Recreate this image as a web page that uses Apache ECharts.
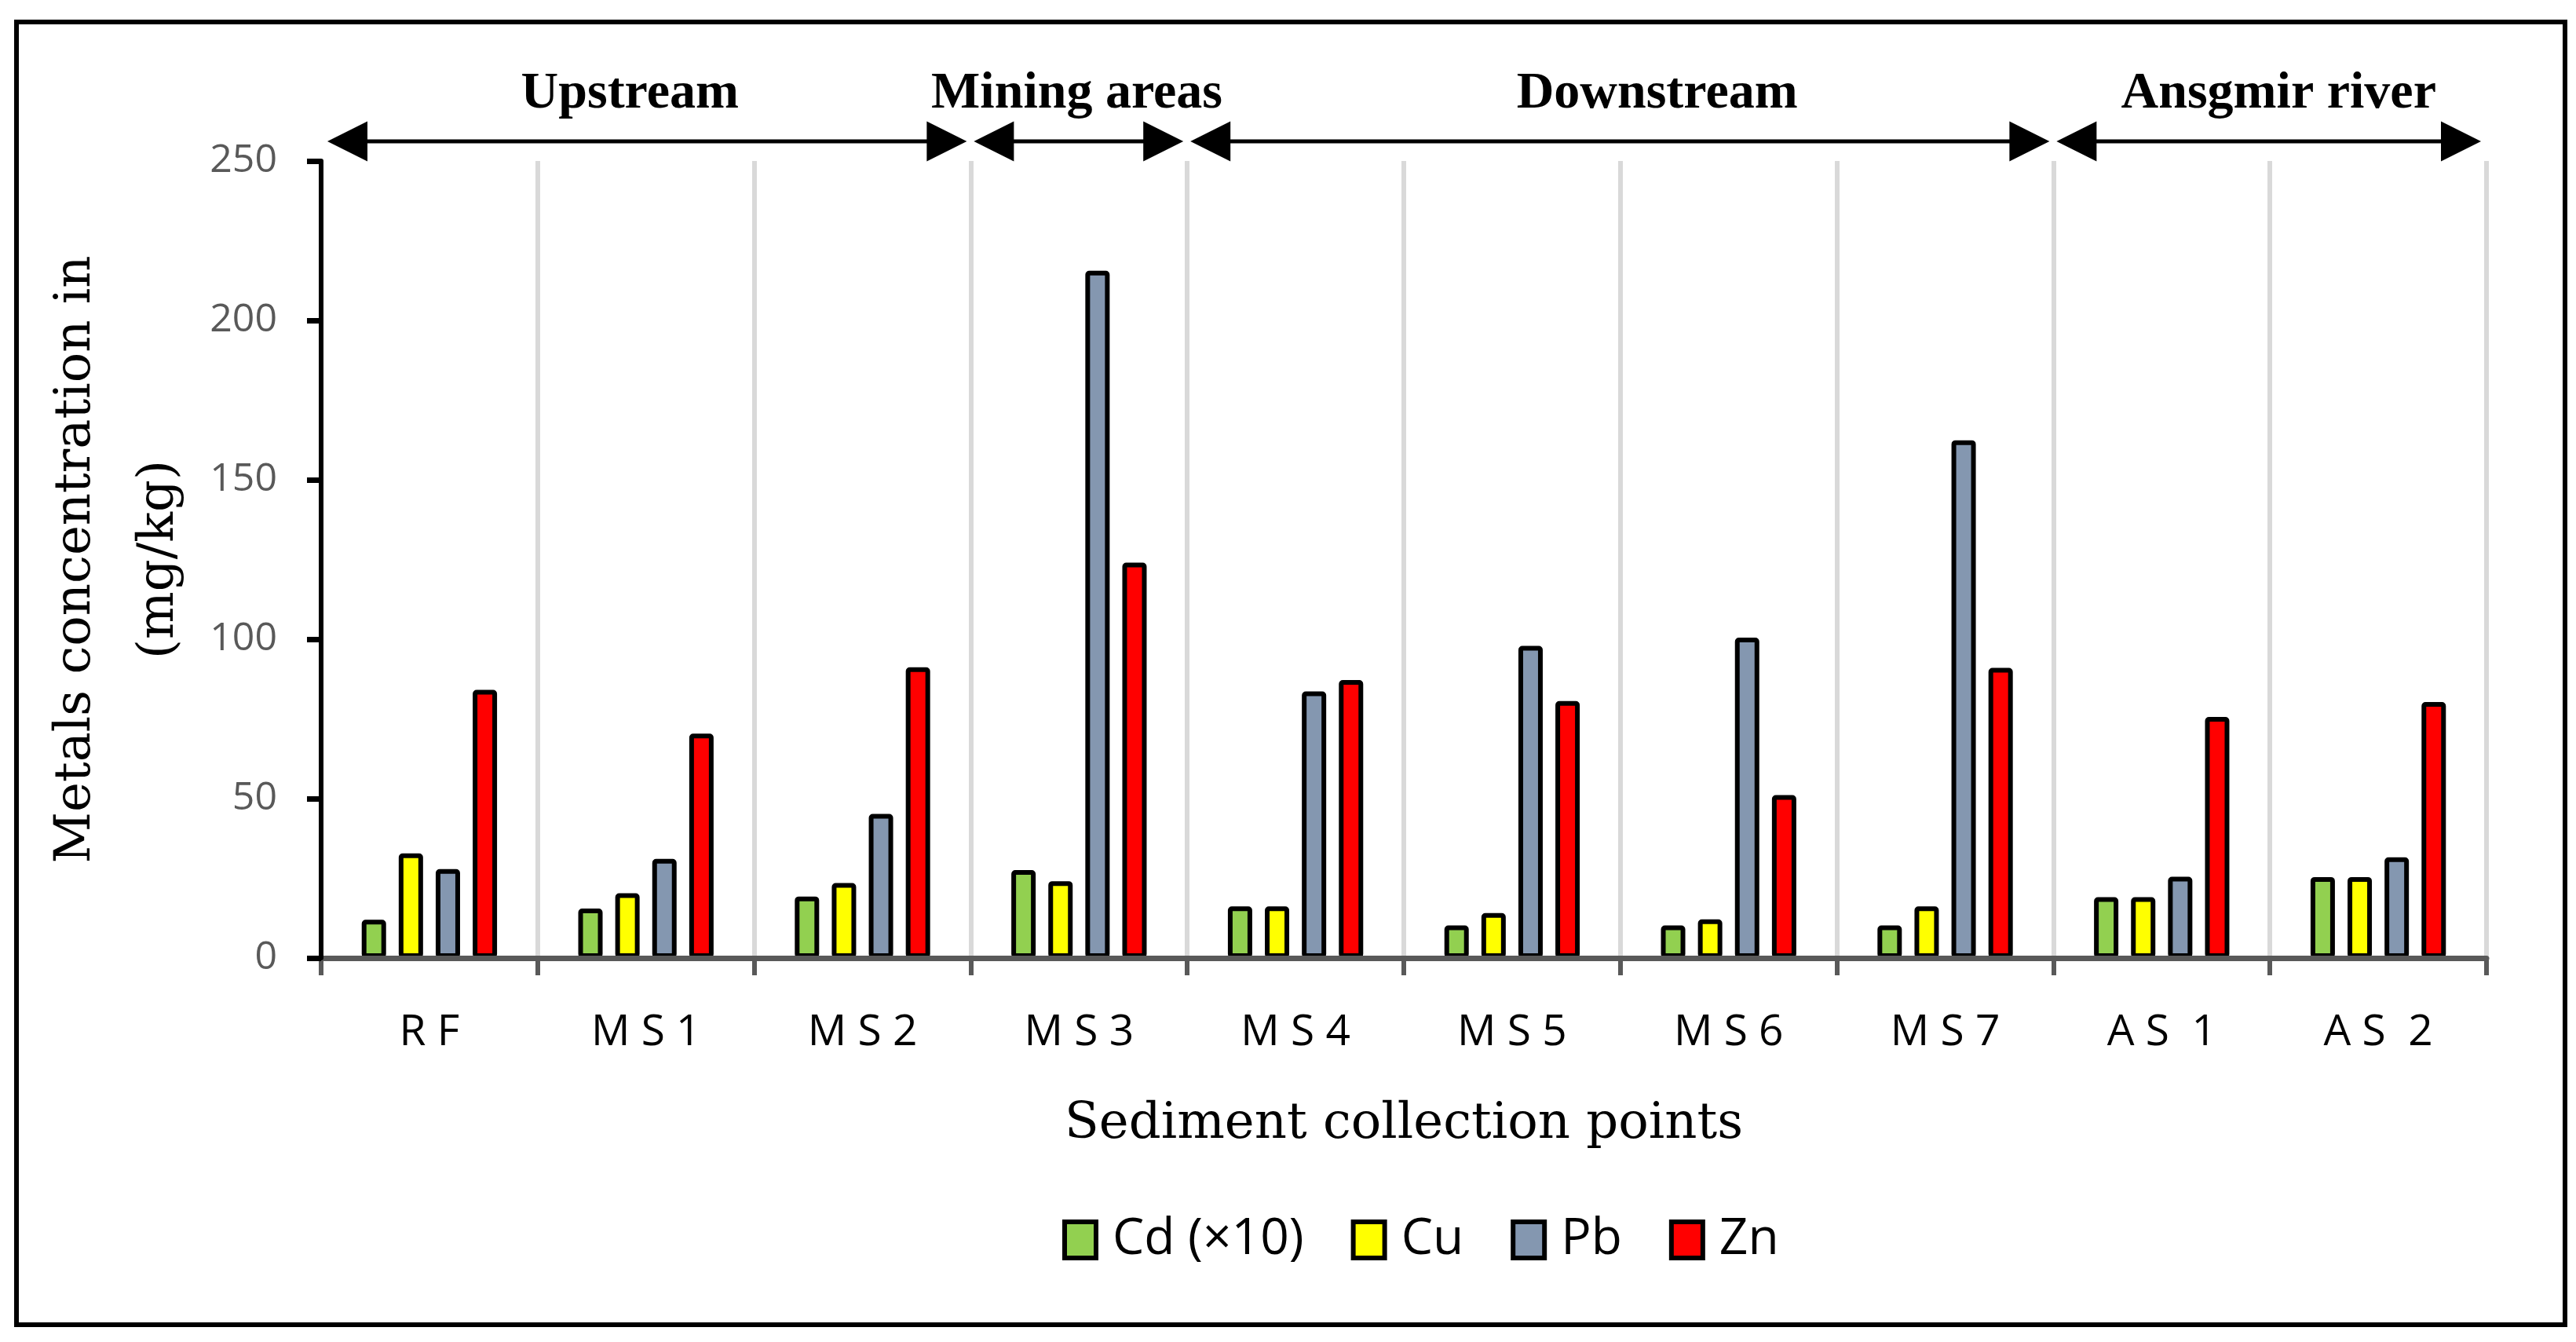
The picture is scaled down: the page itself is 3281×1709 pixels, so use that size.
<!DOCTYPE html>
<html>
<head>
<meta charset="utf-8">
<script src="https://cdn.jsdelivr.net/npm/echarts@6/dist/echarts.min.js"></script>
<style>
html,body{margin:0;padding:0;background:#fff;}
#chart{width:3281px;height:1709px;}
</style>
</head>
<body>
<div id="chart"></div>
<script>
// ---- data ----
var categories = ['R F', 'M S 1', 'M S 2', 'M S 3', 'M S 4', 'M S 5', 'M S 6', 'M S 7', 'A S  1', 'A S  2'];
var seriesNames = ['Cd (×10)', 'Cu', 'Pb', 'Zn'];
var cdX10 = [12.0, 15.5, 19.3, 27.6, 16.2, 10.2, 10.2, 10.2, 19.1, 25.4];
var cu = [32.8, 20.3, 23.5, 24.1, 16.2, 14.1, 12.1, 16.2, 19.1, 25.4];
var pb = [27.9, 31.1, 45.2, 215.6, 83.6, 97.9, 100.5, 162.4, 25.5, 31.6];
var zn = [84.1, 70.4, 91.2, 124.0, 87.2, 80.6, 51.1, 91.0, 75.6, 80.3];
var yTicks = [0, 50, 100, 150, 200, 250];
// zones: start/end category boundary index, label position (in category units)
var zoneNames = ['Upstream', 'Mining areas', 'Downstream', 'Ansgmir river'];
var zoneFrom = [0, 3, 4, 8];
var zoneTo = [3, 4, 8, 10];
var zoneLabelAt = [1.426, 3.49, 6.17, 9.04];

var colors = ['#92D050', '#FFFF00', '#8497B0', '#FF0000'];
var seriesData = [cdX10, cu, pb, zn];

var W = 3281, H = 1709;
var gridLeft = 409, gridRight = 114, gridTop = 205, gridBottom = 489;
var plotW = W - gridLeft - gridRight;
function bx(u) { return gridLeft + u * plotW / categories.length; }

var chart = echarts.init(document.getElementById('chart'), null, {renderer: 'canvas'});

var series = seriesNames.map(function (n, i) {
  return {
    name: n,
    type: 'bar',
    data: seriesData[i],
    barWidth: 31,
    barGap: '52%',
    itemStyle: {color: colors[i], borderColor: '#000', borderWidth: 6, borderRadius: 2},
    z: 2
  };
});

// annotation graphics
var graphics = [];
graphics.push({
  type: 'rect', z: 100,
  shape: {x: 21, y: 28, width: 3246, height: 1659},
  style: {fill: 'none', stroke: '#000', lineWidth: 6}
});
var arrowY = 180, head = 51, headH = 51;
for (var i = 0; i < zoneNames.length; i++) {
  var l = bx(zoneFrom[i]) + (i === 0 ? 8 : 4);
  var r = bx(zoneTo[i]) - (i === zoneNames.length - 1 ? 7 : 5);
  graphics.push({
    type: 'line', z: 100,
    shape: {x1: l + head - 2, y1: arrowY, x2: r - head + 2, y2: arrowY},
    style: {stroke: '#000', lineWidth: 5}
  });
  graphics.push({
    type: 'polygon', z: 100,
    shape: {points: [[l, arrowY], [l + head, arrowY - headH / 2], [l + head, arrowY + headH / 2]]},
    style: {fill: '#000'}
  });
  graphics.push({
    type: 'polygon', z: 100,
    shape: {points: [[r, arrowY], [r - head, arrowY - headH / 2], [r - head, arrowY + headH / 2]]},
    style: {fill: '#000'}
  });
  graphics.push({
    type: 'text', z: 100,
    x: bx(zoneLabelAt[i]), y: 120,
    style: {
      text: zoneNames[i],
      font: 'bold 66px "Liberation Serif", "Times New Roman", serif',
      fill: '#000', align: 'center', verticalAlign: 'middle'
    }
  });
}

chart.setOption({
  animation: false,
  backgroundColor: '#fff',
  grid: {left: gridLeft, right: gridRight, top: gridTop, bottom: gridBottom, containLabel: false},
  legend: {
    data: seriesNames,
    left: 1348,
    top: 1542,
    icon: 'rect',
    itemWidth: 40,
    itemHeight: 46,
    itemGap: 60,
    itemStyle: {borderColor: '#000', borderWidth: 6},
    textStyle: {fontFamily: '"Open Sans", sans-serif', fontSize: 64, color: '#000', padding: [0, 0, 0, 16]}
  },
  xAxis: {
    type: 'category',
    data: categories,
    z: 3,
    name: 'Sediment collection points',
    nameLocation: 'middle',
    nameGap: 180,
    nameTextStyle: {fontFamily: '"DejaVu Serif", serif', fontSize: 64, color: '#000'},
    axisLine: {show: true, lineStyle: {color: '#595959', width: 7}},
    axisTick: {show: true, alignWithLabel: false, length: 22, lineStyle: {color: '#595959', width: 6}},
    axisLabel: {fontFamily: '"Open Sans", sans-serif', fontSize: 55, color: '#000', margin: 68},
    splitLine: {show: true, lineStyle: {color: '#D9D9D9', width: 6}}
  },
  yAxis: {
    type: 'value',
    min: 0, max: 250, interval: 50,
    z: 4,
    name: 'Metals concentration in\n(mg/kg)',
    nameLocation: 'middle',
    nameRotate: 90,
    nameGap: 143,
    nameTextStyle: {fontFamily: '"DejaVu Serif", serif', fontSize: 64, color: '#000', lineHeight: 106},
    axisLine: {show: true, lineStyle: {color: '#000', width: 6}},
    axisTick: {show: true, length: 18, lineStyle: {color: '#000', width: 7}},
    axisLabel: {fontFamily: '"Open Sans", sans-serif', fontSize: 50, color: '#595959', margin: 56,
      formatter: function (v) { return yTicks.indexOf(v) >= 0 ? String(v) : ''; }},
    splitLine: {show: false}
  },
  series: series,
  graphic: graphics
});
</script>
</body>
</html>
